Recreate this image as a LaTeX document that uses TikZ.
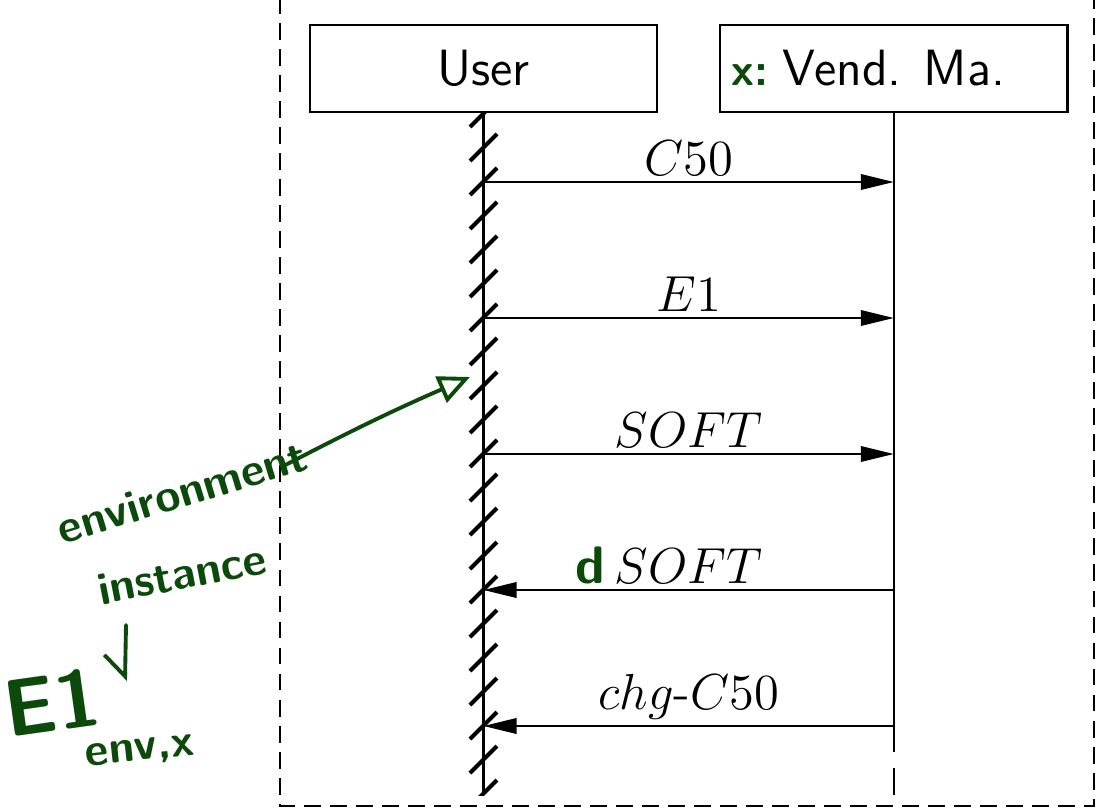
\documentclass[tikz,border=0pt]{standalone}
\usepackage{xcolor}
\usepackage{tikz}
\usetikzlibrary{arrows.meta, positioning}

\definecolor{pen}{RGB}{12,74,12}

\begin{document}
\begin{tikzpicture}[x=0.01cm, y=-0.01cm,
            actor/.style  ={rectangle, draw, line width=0.6pt, minimum width=3.47cm, minimum height=0.87cm,
                            font=\sffamily\fontsize{14.5}{17}\selectfont},
            life/.style   ={line width=0.6pt},
            hatch/.style  ={line width=1.2pt},
            msg/.style    ={-{Triangle[length=9.4pt, width=4.4pt]}, line width=0.6pt},
            lbl/.style    ={above, inner sep=1.5pt, font=\fontsize{14.5}{17}\selectfont},
            frame/.style  ={line width=0.6pt, dash pattern=on 4.8pt off 2.6pt},
            hand/.style   ={text=pen, inner sep=1pt, font=\sffamily\bfseries\fontsize{13}{15}\selectfont},
            penline/.style={draw=pen, line width=1.1pt, line cap=round}
        ]
            \useasboundingbox (0,0) rectangle (1099,809);
            \draw[frame] (280,-3) rectangle (1094,806);

            \node[actor] (user) at (483.5,68.5) {User};
            \node[actor, right=0.61cm of user] (vm) {Vend. Ma.};
            \node[hand, anchor=base east] (vmx) at ([xshift=-3pt]vm.text) {x:};

            \coordinate (ubot) at (user.south |- 0,795);
            \coordinate (vsol) at (vm.south |- 0,752);
            \coordinate (vbot) at (vm.south |- 0,795);
            \draw[life] (user.south) -- (ubot);
            \draw[life] (vm.south) -- (vsol);
            \draw[life, dash pattern=on 0pt off 4.5pt on 8pt] (vsol) -- (vbot);

            \begin{scope}
                \clip (460,112) rectangle (510,795);
                \foreach \c in {114,148,...,794}
                    \draw[hatch] (470,\c+13) -- (497,\c-14);
            \end{scope}

            \coordinate (u1) at (user.south |- 0,182);  \coordinate (v1) at (vm.south |- 0,182);
            \coordinate (u2) at (user.south |- 0,318);  \coordinate (v2) at (vm.south |- 0,318);
            \coordinate (u3) at (user.south |- 0,454);  \coordinate (v3) at (vm.south |- 0,454);
            \coordinate (u4) at (user.south |- 0,590);  \coordinate (v4) at (vm.south |- 0,590);
            \coordinate (u5) at (user.south |- 0,726);  \coordinate (v5) at (vm.south |- 0,726);

            \draw[msg] (u1) -- node[lbl] (m1) {$C50$} (v1);
            \draw[msg] (u2) -- node[lbl] (m2) {$E1$} (v2);
            \draw[msg] (u3) -- node[lbl] (m3) {$SOFT$} (v3);
            \draw[msg] (v4) -- node[lbl] (m4) {$SOFT$} (u4);
            \draw[msg] (v5) -- node[lbl] (m5) {$chg$-$C50$} (u5);
            \node[hand, anchor=base east, font=\sffamily\bfseries\fontsize{15}{18}\selectfont] (md) at ([xshift=-1.5pt]m4.text) {d};

            \node[hand, rotate=17] (env)  at (182,492) {environment};
            \node[hand, rotate=11] (inst) at (182,574) {instance};
            \node[hand, rotate=8, font=\sffamily\bfseries\fontsize{23}{26}\selectfont] (eone) at (52,702) {E1};
            \node[hand, rotate=6] (eidx) at (140,752) {env,x};

            \coordinate (envtip) at (470,377);
            \draw[penline, -{Triangle[open, length=9pt, width=8pt]}] ([shift={(-28,14)}]env.east) to[bend left=2] (envtip);
            \coordinate (bangtop) at (126,625);
            \coordinate (bangtip) at (125,681);
            \draw[penline, -{Straight Barb[right, length=6pt]}] (bangtop) -- (bangtip);
        \end{tikzpicture}
\end{document}
